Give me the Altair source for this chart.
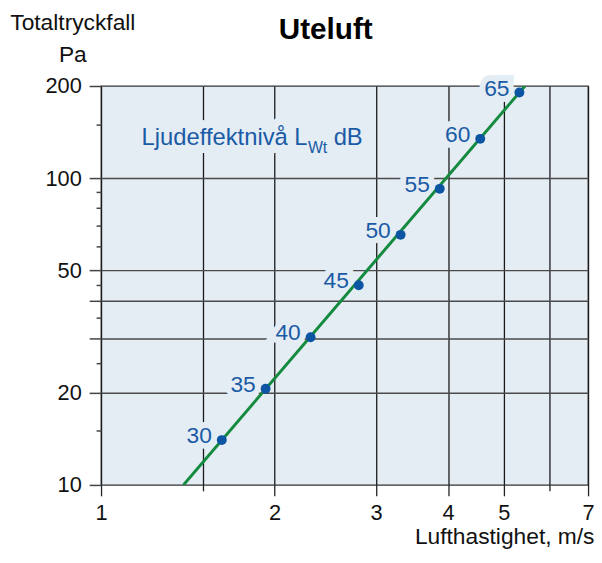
import altair as alt
import pandas as pd

# ---- data ----
sound_levels = [30, 35, 40, 45, 50, 55, 60, 65]          # L_Wt dB
air_speed = [1.62, 1.93, 2.31, 2.80, 3.31, 3.87, 4.55, 5.32]   # m/s
pressure_drop = [14.0, 20.6, 30.3, 44.8, 65.4, 92.4, 134.5, 190.4]  # Pa

line_speed = [1.39, 5.44]
line_pressure = [10, 200]

x_ticks = [1, 1.5, 2, 3, 4, 5, 6, 7]
x_minor = [1.5, 6]
y_ticks = [10, 15, 20, 25, 30, 35, 40, 45, 50, 60, 70, 80, 90, 100, 150, 200]
y_labels = [10, 20, 50, 100, 200]
y_major = [10, 20, 30, 40, 50, 100, 200]
y_grid = [20, 30, 40, 50, 100]

note_speed = [1.176]
note_pressure = [128]

# ---- styles ----
BG = "#e4ecf4"
BLUE_TXT = "#1a5ba6"
BLUE_PT = "#0b55a3"
GREEN = "#138a3e"
FONT = "Liberation Sans"

def arr(v):
    return "[" + ",".join(str(x) for x in v) + "]"

x_scale = alt.Scale(type="log", domain=[1, 7], nice=False)
y_scale = alt.Scale(type="log", domain=[10, 200], nice=False)

x_axis = alt.Axis(
    values=x_ticks,
    labelExpr=f"indexof({arr(x_minor)}, datum.value) >= 0 ? '' : datum.label",
    labelFont=FONT, labelFontSize=22, labelColor="#111", labelPadding=7,
    labelFlush=False, labelOverlap=False,
    tickColor="#222", tickWidth=1.3,
    tickSize={"condition": {"test": f"indexof({arr(x_minor)}, datum.value) >= 0", "value": 6}, "value": 11},
    grid=True, gridColor="#1a1a1a", gridWidth=1.3,
    domain=False,
    title="Lufthastighet, m/s", titleFont=FONT, titleFontSize=23, titleFontWeight="normal",
    titleColor="#111", titleAngle=0, titleAlign="right", titleBaseline="alphabetic",
    titleX=498, titleY=59,
)

y_axis = alt.Axis(
    values=y_ticks,
    labelExpr=f"indexof({arr(y_labels)}, datum.value) >= 0 ? datum.label : ''",
    labelFont=FONT, labelFontSize=22, labelColor="#111", labelPadding=8,
    labelFlush=False, labelOverlap=False,
    tickColor="#444", tickWidth=1.5,
    tickSize={"condition": {"test": f"indexof({arr(y_major)}, datum.value) >= 0", "value": 12}, "value": 5},
    grid=True, gridColor="#4a4a4a", gridWidth=1.5,
    gridOpacity={"condition": {"test": f"indexof({arr(y_grid)}, datum.value) >= 0", "value": 1}, "value": 0},
    domain=False,
    title=["Totaltryckfall", "Pa"], titleFont=FONT, titleFontSize=23, titleFontWeight="normal",
    titleColor="#111", titleAngle=0, titleAlign="center", titleBaseline="alphabetic",
    titleX=-29, titleY=-57, titleLineHeight=32,
)

pts = pd.DataFrame({"v": air_speed, "p": pressure_drop, "lw": [str(s) for s in sound_levels]})
line_df = pd.DataFrame({"v": line_speed, "p": line_pressure})
note_df = pd.DataFrame({"v": note_speed, "p": note_pressure})

base = alt.Chart(pts)

line = alt.Chart(line_df).mark_line(color=GREEN, strokeWidth=3, clip=True).encode(
    x=alt.X("v:Q", scale=x_scale, axis=x_axis),
    y=alt.Y("p:Q", scale=y_scale, axis=y_axis),
)

lab_kw = dict(align="right", baseline="middle", dx=-10, dy=-4, font=FONT, fontSize=23)
halo = base.mark_text(stroke=BG, strokeWidth=12, fill=BG, **lab_kw).encode(
    x=alt.X("v:Q", scale=x_scale), y=alt.Y("p:Q", scale=y_scale), text="lw:N")
labels = base.mark_text(color=BLUE_TXT, **lab_kw).encode(
    x=alt.X("v:Q", scale=x_scale), y=alt.Y("p:Q", scale=y_scale), text="lw:N")
points = base.mark_circle(color=BLUE_PT, opacity=1, size=100).encode(
    x=alt.X("v:Q", scale=x_scale), y=alt.Y("p:Q", scale=y_scale))

def note(txt, size, dx, dy, halo_w):
    kw = dict(align="left", baseline="alphabetic", font=FONT, fontSize=size, dx=dx, dy=dy)
    enc = dict(x=alt.X("v:Q", scale=x_scale), y=alt.Y("p:Q", scale=y_scale))
    h = alt.Chart(note_df).mark_text(text=txt, stroke=BG, strokeWidth=halo_w, fill=BG, **kw).encode(**enc)
    t = alt.Chart(note_df).mark_text(text=txt, color=BLUE_TXT, **kw).encode(**enc)
    return h, t

n1h, n1t = note("Ljudeffektnivå L", 24, 0, 0, 16)
n2h, n2t = note("Wt", 16, 168, 7.5, 16)
n3h, n3t = note("dB", 24, 194, 0, 16)

chart = alt.layer(
    line.mark_line(opacity=0).encode(),
    n1h, n2h, n3h, halo,
    n1t, n2t, n3t, labels,
    line, points,
).properties(
    width=492, height=403,
    autosize=alt.AutoSizeParams(type="none"),
    padding={"left": 94, "top": 76, "right": 6, "bottom": 70},
    title=alt.TitleParams("Uteluft", font=FONT, fontSize=30, fontWeight="bold", color="#000",
                          anchor="middle", dx=-19, dy=58, frame="group", offset=0, baseline="alphabetic"),
).configure_view(fill=BG, stroke="#333", strokeWidth=1.3)

chart.save("out.html", embed_options={"renderer": "svg", "actions": False})
